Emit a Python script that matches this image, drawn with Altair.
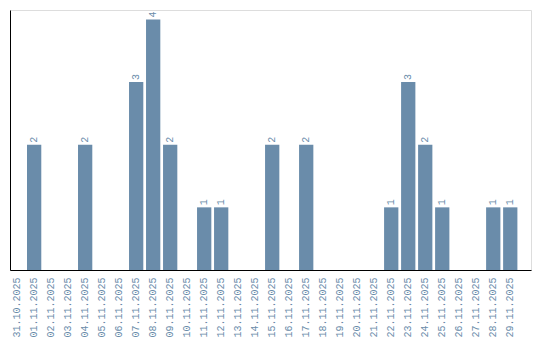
import altair as alt
import pandas as pd

dates = [
    "31.10.2025", "01.11.2025", "02.11.2025", "03.11.2025", "04.11.2025",
    "05.11.2025", "06.11.2025", "07.11.2025", "08.11.2025", "09.11.2025",
    "10.11.2025", "11.11.2025", "12.11.2025", "13.11.2025", "14.11.2025",
    "15.11.2025", "16.11.2025", "17.11.2025", "18.11.2025", "19.11.2025",
    "20.11.2025", "21.11.2025", "22.11.2025", "23.11.2025", "24.11.2025",
    "25.11.2025", "26.11.2025", "27.11.2025", "28.11.2025", "29.11.2025",
]
counts = [0, 2, 0, 0, 2, 0, 0, 3, 4, 2, 0, 1, 1, 0, 0, 2, 0, 2, 0, 0, 0, 0, 1, 3, 2, 1, 0, 0, 1, 1]

df = pd.DataFrame({"date": dates, "count": counts})
df["label"] = df["count"].apply(lambda v: str(v) if v > 0 else "")

COLOR = "#6a8caa"
FONT = "Liberation Mono"

x = alt.X(
    "date:N",
    sort=dates,
    scale=alt.Scale(paddingInner=0.16, paddingOuter=0.4, align=0),
    axis=alt.Axis(
        title=None, labelAngle=-90, labelAlign="right", labelBaseline="middle",
        labelFont=FONT, labelFontSize=10, labelColor=COLOR, labelPadding=7,
        ticks=False, domainColor="#000000", domainWidth=1, grid=False,
    ),
)
y = alt.Y(
    "count:Q",
    scale=alt.Scale(domain=[0, 4.15], nice=False),
    axis=alt.Axis(title=None, labels=False, ticks=False, grid=False,
                  domainColor="#000000", domainWidth=1),
)

bars = alt.Chart(df).mark_bar(color=COLOR).encode(x=x, y=y)
text = alt.Chart(df).mark_text(
    angle=270, align="left", baseline="middle", dx=2,
    font=FONT, fontSize=10, color=COLOR,
).encode(x=alt.X("date:N", sort=dates), y="count:Q", text="label:N")

chart = (bars + text).properties(
    width=521, height=260,
    autosize=alt.AutoSizeParams(type="none"),
    padding={"left": 10, "top": 10, "right": 9, "bottom": 70},
).configure_view(stroke=None).configure(background="white")

chart.save("out.html", embed_options={"renderer": "svg", "actions": False})
